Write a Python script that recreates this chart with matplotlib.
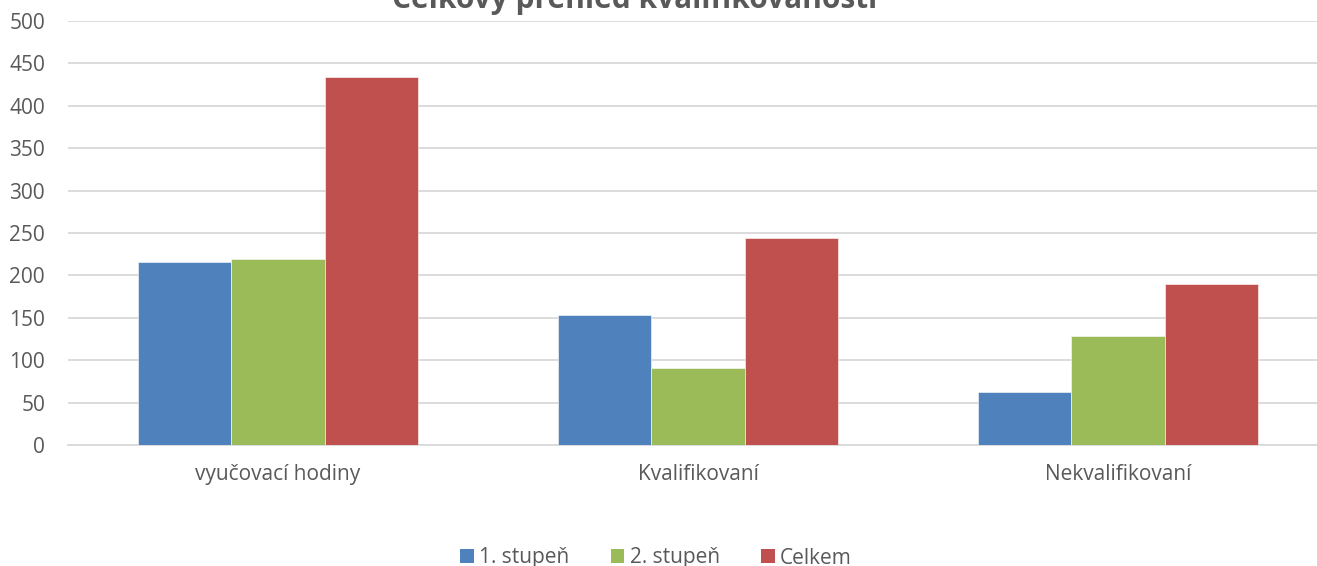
import numpy as np
import matplotlib
matplotlib.use('Agg')
import matplotlib.pyplot as plt
from matplotlib.patches import Patch

plt.rcParams['font.family'] = ['Open Sans', 'DejaVu Sans']

# data
categories = ['vyučovací hodiny', 'Kvalifikovaní', 'Nekvalifikovaní']
series_names = ['1. stupeň', '2. stupeň', 'Celkem']
stupen1 = [216, 153, 62]
stupen2 = [219, 91, 128]
celkem = [434, 244, 190]
yticks = [0, 50, 100, 150, 200, 250, 300, 350, 400, 450, 500]

colors = ['#4F81BD', '#9BBB59', '#C0504D']
text_color = '#595959'

fig = plt.figure(figsize=(13.17, 5.66), dpi=100)
ax = fig.add_axes([68 / 1317, 121 / 566, 1260 / 1317, 424 / 566])

x = np.arange(len(categories))
w = 0.222
for i, (vals, name) in enumerate(zip([stupen1, stupen2, celkem], series_names)):
    ax.bar(x + (i - 1) * w, vals, w, color=colors[i], label=name,
           edgecolor='white', linewidth=0.4, zorder=3)

ax.set_xlim(-0.5, 2.5)
ax.set_ylim(0, 500)
ax.set_yticks(yticks)
ax.set_xticks(x)
ax.set_xticklabels(categories)
ax.yaxis.grid(True, color='#D9D9D9', linewidth=1.3, zorder=0)
ax.set_axisbelow(True)
for s in ['top', 'right', 'left']:
    ax.spines[s].set_visible(False)
ax.spines['bottom'].set_color('#D9D9D9')
ax.spines['bottom'].set_linewidth(1.3)
ax.tick_params(axis='both', length=0, labelsize=15, labelcolor=text_color)
ax.tick_params(axis='y', pad=16.5)
ax.tick_params(axis='x', pad=14)

# title (partly cut off at the top edge in the original)
fig.text(635 / 1317, 1 - 8 / 566, 'Celkový přehled kvalifikovanosti',
         ha='center', va='baseline', fontsize=21.5, fontweight='bold',
         color=text_color)

handles = [Patch(facecolor=c, edgecolor='none') for c in colors]
fig.legend(handles, series_names, loc='center', ncol=3,
           bbox_to_anchor=(656 / 1317, 1 - 558 / 566), frameon=False,
           fontsize=15, labelcolor=text_color, handlelength=0.65,
           handleheight=0.65, handletextpad=0.25, columnspacing=2.0)

fig.savefig('out.png', dpi=100)
